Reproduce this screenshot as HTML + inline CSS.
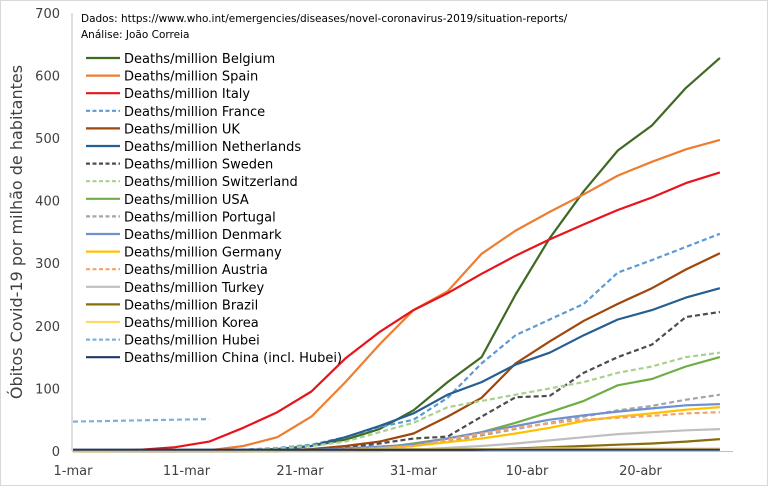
<!DOCTYPE html>
<html><head><meta charset="utf-8"><style>
body{margin:0;background:#fff}
#wrap{position:relative;width:768px;height:486px;overflow:hidden;background:#fff}
svg{position:absolute;left:0;top:0}
text{font-family:"DejaVu Sans","Liberation Sans",sans-serif}
</style></head><body>
<div id="wrap">
<svg id="chart" width="768" height="486">
<rect x="0.5" y="0.5" width="767" height="485" fill="#fff" stroke="#d9d9d9"/>
<text x="81" y="22" font-size="10.5" fill="#000">Dados: https://www.who.int/emergencies/diseases/novel-coronavirus-2019/situation-reports/</text>
<text x="81" y="38" font-size="10.5" fill="#000">Análise: João Correia</text>
<text transform="translate(22,232) rotate(-90)" text-anchor="middle" font-size="16" fill="#404040">Óbitos Covid-19 por milhão de habitantes</text>
</svg>
</div>
<script>
const days = [0,3,6,9,12,15,18,21,24,27,30,33,36,39,42,45,48,51,54,57];
const xTickLabels = ["1-mar","11-mar","21-mar","31-mar","10-abr","20-abr"];
const xTickDays = [0,10,20,30,40,50];
const yTicks = [0,100,200,300,400,500,600,700];
const seriesNames = ["Belgium","Spain","Italy","France","UK","Netherlands","Sweden","Switzerland","USA","Portugal","Denmark","Germany","Austria","Turkey","Brazil","Korea","Hubei","China (incl.  Hubei)"];
const belgium = [0,0,0,0,0,1,3,8,18,35,65,110,150,250,340,415,480,520,580,628];
const spain = [0,0,0,0,1,8,22,55,110,170,225,255,315,352,382,410,440,462,482,497];
const italy = [0,0,2,6,15,37,62,95,148,190,225,252,283,312,338,362,385,405,428,445];
const france = [0,0,0,0,0,2,5,10,22,38,50,85,140,185,210,235,285,305,326,347];
const uk = [0,0,0,0,0,0,1,3,8,15,28,55,85,140,175,208,235,260,290,316];
const netherlands = [0,0,0,0,0,1,3,8,22,40,60,90,110,138,157,185,210,225,245,260];
const sweden = [0,0,0,0,0,0,1,2,5,12,20,23,55,86,88,125,150,170,214,222];
const switzerland = [0,0,0,0,0,1,4,8,15,30,45,70,80,90,100,110,125,135,150,157];
const usa = [0,0,0,0,0,0,0,1,2,5,12,20,30,45,62,80,105,115,135,150];
const portugal = [0,0,0,0,0,0,0,1,3,5,8,15,25,35,45,55,65,72,82,90];
const denmark = [0,0,0,0,0,0,1,2,4,7,10,20,30,40,50,57,63,68,73,75];
const germany = [0,0,0,0,0,0,0,1,2,4,8,14,20,28,37,48,55,60,66,70];
const austria = [0,0,0,0,0,0,0,1,3,5,8,18,28,37,44,50,53,56,60,62];
const turkey = [0,0,0,0,0,0,0,0,0,1,2,5,8,12,17,22,27,30,33,35];
const brazil = [0,0,0,0,0,0,0,0,0,0,1,1,2,4,6,8,10,12,15,19];
const korea = [0,0,1,1,1,1,2,2,2,3,3,3,3,3,4,4,4,4,4,4];
const hubei = [47,48,49,50,51,null,null,null,null,null,null,null,null,null,null,null,null,null,null,null];
const china = [2,2,2,2,2,2,2,2,2,2,2,2,2,2,2,2,2,2,2,2];

const styles = [
 ["#3f6a23",""],["#ed7d31",""],["#e8141b",""],["#5b9bd5","5,3"],["#9e480e",""],["#255e91",""],
 ["#4d4d4d","5,3"],["#a9d18e","5,3"],["#70ad47",""],["#a5a5a5","5,3"],["#6f8fd0",""],["#ffc000",""],
 ["#f4a36b","5,3"],["#bfbfbf",""],["#8a6d0b",""],["#ffd966",""],["#7fb0dc","5,3"],["#1f3864",""]];
const allSeries = [belgium,spain,italy,france,uk,netherlands,sweden,switzerland,usa,portugal,denmark,germany,austria,turkey,brazil,korea,hubei,china];

const NS = "http://www.w3.org/2000/svg";
const svg = document.getElementById("chart");
const X0 = 73, PXDAY = 11.35, Y0 = 451, PXVAL = 0.626;
function xScale(d){return X0 + d*PXDAY;}
function yScale(v){return Y0 - v*PXVAL;}
function mk(tag, attrs){const e=document.createElementNS(NS,tag);for(const k in attrs)e.setAttribute(k,attrs[k]);svg.appendChild(e);return e;}

let ya = mk("line",{x1:72,y1:13,x2:72,y2:Y0,stroke:"#bfbfbf","stroke-width":1});


yTicks.forEach(v=>{
  const t = mk("text",{x:60,y:yScale(v)+5,"text-anchor":"end","font-size":13,fill:"#404040"});
  t.textContent = v;
  
  
});
xTickDays.forEach((d,i)=>{
  const t = mk("text",{x:xScale(d),y:475,"text-anchor":"middle","font-size":13,fill:"#404040"});
  t.textContent = xTickLabels[i];
  
  
});

allSeries.forEach((vals,i)=>{
  let d = "", pen = false;
  vals.forEach((v,j)=>{
    if(v===null){pen=false;return;}
    d += (pen?"L":"M") + xScale(days[j]).toFixed(1) + "," + yScale(v).toFixed(1) + " ";
    pen = true;
  });
  const p = mk("path",{d:d,fill:"none",stroke:styles[i][0],"stroke-width":2.2,"stroke-linejoin":"round"});
  if(styles[i][1]) p.setAttribute("stroke-dasharray",styles[i][1]);
  
  
});

let xa = mk("line",{x1:72,y1:Y0+0.5,x2:733,y2:Y0+0.5,stroke:"#bfbfbf","stroke-width":1});



seriesNames.forEach((n,i)=>{
  const y = 58 + i*17.6;
  const l = mk("line",{x1:86,y1:y,x2:120,y2:y,stroke:styles[i][0],"stroke-width":2.2});
  if(styles[i][1]) l.setAttribute("stroke-dasharray","4,2.5");
  
  
  const t = mk("text",{x:124,y:y+5,"font-size":13,fill:"#000"});
  t.textContent = "Deaths/million " + n;
  
  
});
</script>
</body></html>
